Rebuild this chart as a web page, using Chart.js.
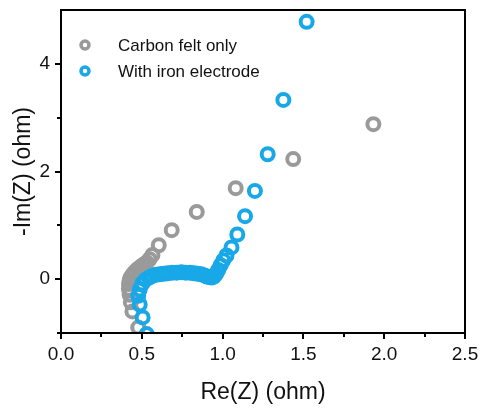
<!DOCTYPE html>
<html>
<head>
<meta charset="utf-8">
<script src="https://cdn.jsdelivr.net/npm/chart.js@4.4.1/dist/chart.umd.min.js"></script>
<style>
  body { margin: 0; background: #fff; }
  canvas { display: block; }
</style>
</head>
<body>
<canvas id="Chart" width="482" height="410"></canvas>
<script>
// داده‌های امپدانس (Re و -Im بر حسب اهم)
var carbonRe = [0.478, 0.442, 0.432, 0.425, 0.420, 0.421, 0.425, 0.431, 0.440, 0.450, 0.462, 0.476, 0.492, 0.510, 0.530, 0.548, 0.566, 0.605, 0.685, 0.840, 1.081, 1.437, 1.933];
var carbonIm = [-0.90, -0.60, -0.43, -0.29, -0.18, -0.09, -0.02, 0.03, 0.07, 0.11, 0.15, 0.19, 0.23, 0.27, 0.31, 0.37, 0.45, 0.63, 0.91, 1.25, 1.69, 2.23, 2.88];

var ironRe = [0.530, 0.505, 0.487, 0.478, 0.487, 0.503, 0.523, 0.545, 0.565, 0.587, 0.610, 0.635, 0.660, 0.688, 0.716, 0.745, 0.772, 0.798, 0.823, 0.847, 0.868, 0.887, 0.903, 0.918, 0.932, 0.946, 0.960, 0.973, 0.988, 1.004, 1.024, 1.055, 1.091, 1.139, 1.200, 1.279, 1.376, 1.520];
var ironIm = [-1.02, -0.71, -0.47, -0.31, -0.19, -0.08, -0.01, 0.03, 0.06, 0.08, 0.09, 0.10, 0.11, 0.12, 0.12, 0.13, 0.12, 0.12, 0.11, 0.10, 0.09, 0.07, 0.05, 0.04, 0.03, 0.05, 0.10, 0.17, 0.26, 0.35, 0.44, 0.59, 0.83, 1.17, 1.64, 2.32, 3.33, 4.78];

var seriesLabels = ['Carbon felt only', 'With iron electrode'];
var xMajorTicks = [0, 0.5, 1.0, 1.5, 2.0, 2.5];
var xMinorTicks = [0.25, 0.75, 1.25, 1.75, 2.25];
var yMajorTicks = [0, 2, 4];
var yMinorTicks = [-1, 1, 3];

var grayColor = '#9a9a9a';
var blueColor = '#18a8e8';
var fontName = "'Liberation Sans', Arial, sans-serif";

function toPoints(xs, ys) {
  return xs.map(function (x, i) { return { x: x, y: ys[i] }; });
}

// کادر دور نمودار، تیک‌ها و راهنما
var framePlugin = {
  id: 'frame',
  afterDraw: function (chart) {
    var ctx = chart.ctx;
    var a = chart.chartArea;
    var xs = chart.scales.x;
    var ys = chart.scales.y;
    ctx.save();
    ctx.strokeStyle = '#000';
    ctx.lineWidth = 2;
    ctx.strokeRect(a.left, a.top, a.right - a.left, a.bottom - a.top);

    ctx.beginPath();
    xMajorTicks.forEach(function (v) {
      var p = Math.round(xs.getPixelForValue(v));
      ctx.moveTo(p, a.bottom); ctx.lineTo(p, a.bottom + 6);
    });
    xMinorTicks.forEach(function (v) {
      var p = Math.round(xs.getPixelForValue(v));
      ctx.moveTo(p, a.bottom); ctx.lineTo(p, a.bottom + 4);
    });
    yMajorTicks.forEach(function (v) {
      var p = Math.round(ys.getPixelForValue(v));
      ctx.moveTo(a.left, p); ctx.lineTo(a.left - 6, p);
    });
    yMinorTicks.forEach(function (v) {
      var p = Math.round(ys.getPixelForValue(v));
      ctx.moveTo(a.left, p); ctx.lineTo(a.left - 4, p);
    });
    ctx.stroke();

    // راهنما
    ctx.font = '17px ' + fontName;
    ctx.textBaseline = 'middle';
    chart.data.datasets.forEach(function (ds, i) {
      var cy = 45 + i * 26;
      ctx.beginPath();
      ctx.arc(85, cy, 4, 0, Math.PI * 2);
      ctx.lineWidth = 3.5;
      ctx.strokeStyle = ds.borderColor;
      ctx.stroke();
      ctx.fillStyle = '#111';
      ctx.fillText(ds.label, 118, cy + 1);
    });
    ctx.restore();
  }
};

var ctx = document.getElementById('Chart').getContext('2d');
var myChart = new Chart(ctx, {
  type: 'scatter',
  data: {
    datasets: [{
      label: seriesLabels[0],
      data: toPoints(carbonRe, carbonIm),
      borderColor: grayColor,
      backgroundColor: 'rgba(0,0,0,0)',
      pointRadius: 6,
      pointBorderWidth: 4,
      order: 2,
      clip: 0
    }, {
      label: seriesLabels[1],
      data: toPoints(ironRe, ironIm),
      borderColor: blueColor,
      backgroundColor: 'rgba(0,0,0,0)',
      pointRadius: 6,
      pointBorderWidth: 4,
      order: 1,
      clip: 0
    }]
  },
  options: {
    responsive: false,
    animation: false,
    layout: { padding: { top: 9, right: 17, left: 0, bottom: 0 } },
    plugins: {
      legend: { display: false },
      tooltip: { enabled: false }
    },
    scales: {
      x: {
        type: 'linear',
        min: 0,
        max: 2.5,
        afterBuildTicks: function (s) { s.ticks = xMajorTicks.map(function (v) { return { value: v }; }); },
        afterFit: function (s) {
          s.height = 77;
          s.paddingLeft = 0;
          s.paddingRight = 0;
        },
        grid: { display: true, drawOnChartArea: false, drawTicks: false },
        border: { display: false },
        ticks: {
          padding: 10,
          color: '#111',
          font: { family: fontName, size: 19 },
          maxRotation: 0,
          callback: function (v) { return Number(v).toFixed(1); }
        },
        title: {
          display: true,
          text: 'Re(Z) (ohm)',
          color: '#111',
          font: { family: fontName, size: 23 },
          padding: { top: 0 }
        }
      },
      y: {
        type: 'linear',
        min: -1,
        max: 5,
        afterBuildTicks: function (s) { s.ticks = yMajorTicks.map(function (v) { return { value: v }; }); },
        afterFit: function (s) {
          s.width = 61;
          s.paddingTop = 0;
          s.paddingBottom = 0;
        },
        grid: { display: true, drawOnChartArea: false, drawTicks: false },
        border: { display: false },
        ticks: {
          padding: 11,
          color: '#111',
          font: { family: fontName, size: 19 },
          callback: function (v) { return String(v); }
        },
        title: {
          display: true,
          text: '-Im(Z) (ohm)',
          color: '#111',
          font: { family: fontName, size: 23 },
          padding: { bottom: 0, top: 10 }
        }
      }
    }
  },
  plugins: [framePlugin]
});
</script>
</body>
</html>
